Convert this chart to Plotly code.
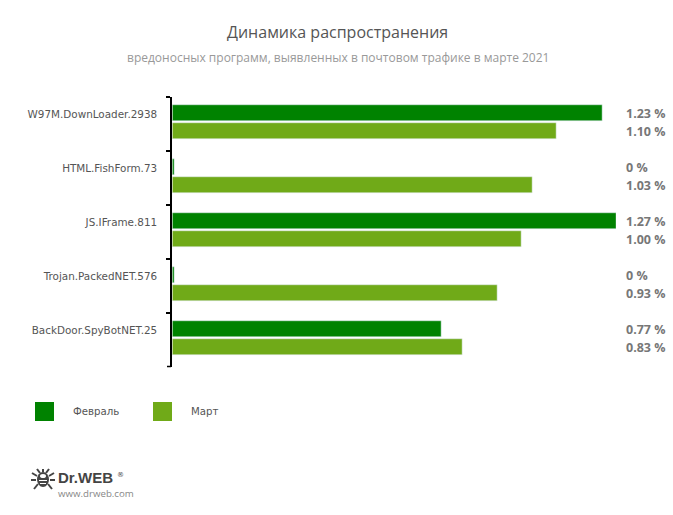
import plotly.graph_objects as go

categories = ["W97M.DownLoader.2938", "HTML.FishForm.73", "JS.IFrame.811", "Trojan.PackedNET.576", "BackDoor.SpyBotNET.25"]
february = [1.23, 0.005, 1.27, 0.005, 0.77]
march = [1.10, 1.03, 1.00, 0.93, 0.83]
february_labels = ["1.23 %", "0 %", "1.27 %", "0 %", "0.77 %"]
march_labels = ["1.10 %", "1.03 %", "1.00 %", "0.93 %", "0.83 %"]
title = "Динамика распространения"
subtitle = "вредоносных программ, выявленных в почтовом трафике в марте 2021"
DARK = "#008200"
LIGHT = "#70aa18"
W, H = 673, 515
L, R, T, B = 171, 616, 97, 367


def px(x):
    return (x - L) / (R - L)


def py(y):
    return (B - y) / (B - T)


fig = go.Figure()
fig.add_bar(y=categories, x=february, name="Февраль", orientation="h", marker_color=DARK,
            width=16 / 54, offset=-19 / 54)
fig.add_bar(y=categories, x=march, name="Март", orientation="h", marker_color=LIGHT,
            width=16 / 54, offset=-1 / 54)

ann = []
pct_font = dict(family="Open Sans", size=12.5, color="#777777")
for c, a, b in zip(categories, february_labels, march_labels):
    ann.append(dict(x=px(626), y=c, xref="paper", yref="y", text=f"<b>{a}</b>", showarrow=False,
                    xanchor="left", yanchor="middle", yshift=11, xshift=-2, font=pct_font))
    ann.append(dict(x=px(626), y=c, xref="paper", yref="y", text=f"<b>{b}</b>", showarrow=False,
                    xanchor="left", yanchor="middle", yshift=-7, xshift=-2, font=pct_font))


def text(x, y, s, size, color, anchor="left", family="Open Sans"):
    ann.append(dict(x=px(x), y=py(y), xref="paper", yref="paper", text=s, showarrow=False, xanchor=anchor,
                    yanchor="middle", xshift=-2 if anchor == "left" else 0, font=dict(family=family, size=size, color=color)))


text(337.5, 32, title, 16, "#555555", "center")
text(338, 57, subtitle, 12, "#999999", "center")
text(73, 411, "Февраль", 10.2, "#555555", family="DejaVu Sans")
text(191, 411, "Март", 10.2, "#555555", family="DejaVu Sans")
text(58, 477, "<b>Dr.WEB</b>", 15, "#444444", family="Liberation Sans")
text(117, 475, "®", 7, "#444444", family="DejaVu Sans")
text(58, 493, "www.drweb.com", 9.7, "#888888")

shapes = []
for x0, col in ((35, DARK), (153, LIGHT)):
    shapes.append(dict(type="rect", xref="paper", yref="paper", x0=px(x0), x1=px(x0 + 19), y0=py(421), y1=py(402),
                       fillcolor=col, line_width=0))
# bottom end tick of the category axis
shapes.append(dict(type="line", xref="paper", yref="paper", x0=px(167), x1=px(171), y0=py(366.5), y1=py(366.5),
                   line=dict(color="black", width=1.5)))
# logo: small bug
shapes.append(dict(type="circle", xref="paper", yref="paper", x0=px(37), x1=px(49), y0=py(487), y1=py(472),
                   fillcolor="#444444", line_width=0))
for x0, x1, y0, y1 in ((40, 46, 478, 474), (39, 47, 481, 480), (40, 46, 484, 483)):
    shapes.append(dict(type="rect" if y0 - y1 == 1 else "circle", xref="paper", yref="paper", x0=px(x0), x1=px(x1),
                       y0=py(y0), y1=py(y1), fillcolor="white", line_width=0))
for x0, y0, x1, y1 in ((37, 476, 32, 473), (49, 476, 54, 473), (36, 480, 31, 480), (50, 480, 55, 480),
                       (38, 484, 34, 489), (48, 484, 52, 489), (40, 473, 37, 469), (46, 473, 49, 469),
                       (43, 472, 43, 469)):
    shapes.append(dict(type="line", xref="paper", yref="paper", x0=px(x0), x1=px(x1), y0=py(y0), y1=py(y1),
                       line=dict(color="#444444", width=2)))

fig.update_layout(
    width=W, height=H, autosize=False, margin=dict(l=L, r=W - R, t=T, b=H - B, pad=0),
    paper_bgcolor="white", plot_bgcolor="white", barmode="overlay", showlegend=False,
    annotations=ann, shapes=shapes, bargap=0,
    xaxis=dict(range=[0, 1.27], domain=[1.4 / (R - L), 1], visible=False),
    yaxis=dict(autorange="reversed", anchor="free", position=0, showline=True, linecolor="black", linewidth=1.5,
               showgrid=False, ticks="outside", ticklen=4, tickcolor="black", tickwidth=1.5, tickson="boundaries",
               ticklabelshift=10, ticklabelstandoff=11, zeroline=False,
               tickfont=dict(family="DejaVu Sans", size=10.4, color="#555555")),
)
fig.write_html("out.html", config={"displayModeBar": False}, post_script="document.body.style.margin='0';")
